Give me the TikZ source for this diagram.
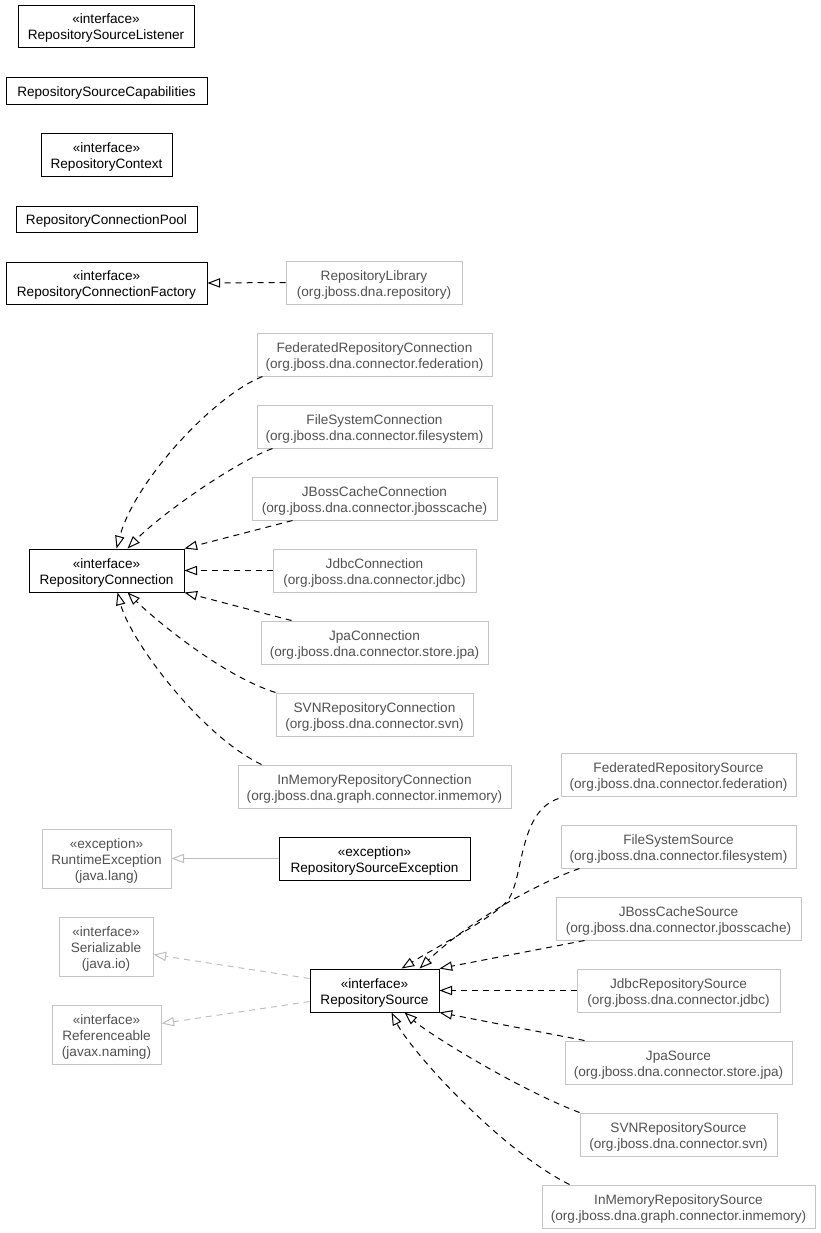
\documentclass[tikz,border=0pt]{standalone}
\usepackage{fontspec}
\setmainfont{Liberation Sans}
\usetikzlibrary{arrows.meta,calc}
\definecolor{boxgray}{RGB}{196,196,196}
\definecolor{txtgray}{RGB}{80,80,80}
\definecolor{edgegray}{RGB}{190,190,190}
\tikzset{
  cls/.style={draw=black, line width=0.7pt, inner sep=0pt, align=center, font=\fontsize{10.2}{12}\selectfont},
  ext/.style={draw=boxgray, line width=0.75pt, inner sep=0pt, align=center, text=txtgray, font=\fontsize{10.2}{12}\selectfont},
  tipo/.style={-{Triangle[open,length=9.5pt,width=7pt]}},
  real/.style={draw=black, line width=0.75pt, dash pattern=on 4.5pt off 3.75pt, tipo},
  greal/.style={draw=edgegray, line width=0.75pt, dash pattern=on 4.5pt off 3.75pt, tipo},
  ginh/.style={draw=edgegray, line width=0.75pt, tipo}
}
\newcommand\umlbox[7]{\node[#1, minimum width={(#4-#2)*0.75pt}, minimum height={(#5-#3)*0.75pt}] (#6) at ({(#2+#4)/2},{(#3+#5)/2}) {\rule{0pt}{10.7pt}#7};}
\begin{document}
\begin{tikzpicture}[x=0.75pt,y=-0.75pt]
\useasboundingbox (0,0) rectangle (821,1233);
% black classes
\umlbox{cls}{18}{5}{194}{47}{rsl}{«interface»\\RepositorySourceListener}
\umlbox{cls}{6}{77}{207}{104}{rscap}{RepositorySourceCapabilities}
\umlbox{cls}{41}{133}{172}{176}{rctx}{«interface»\\RepositoryContext}
\umlbox{cls}{16}{206}{197}{232}{rcp}{RepositoryConnectionPool}
\umlbox{cls}{6}{262}{207}{304}{rcf}{«interface»\\RepositoryConnectionFactory}
\umlbox{cls}{29}{549}{184}{592}{rc}{«interface»\\RepositoryConnection}
\umlbox{cls}{279}{837}{470}{880}{rse}{«exception»\\RepositorySourceException}
\umlbox{cls}{310}{969}{439}{1012}{rs}{«interface»\\RepositorySource}
% external classes
\umlbox{ext}{286}{261}{462}{304}{lib}{RepositoryLibrary\\(org.jboss.dna.repository)}
\umlbox{ext}{257}{333}{492}{376}{fedc}{FederatedRepositoryConnection\\(org.jboss.dna.connector.federation)}
\umlbox{ext}{257}{405}{492}{448}{fsc}{FileSystemConnection\\(org.jboss.dna.connector.filesystem)}
\umlbox{ext}{252}{477}{497}{520}{jbc}{JBossCacheConnection\\(org.jboss.dna.connector.jbosscache)}
\umlbox{ext}{273}{549}{476}{592}{jdbcc}{JdbcConnection\\(org.jboss.dna.connector.jdbc)}
\umlbox{ext}{261}{621}{488}{664}{jpac}{JpaConnection\\(org.jboss.dna.connector.store.jpa)}
\umlbox{ext}{276}{693}{473}{736}{svnc}{SVNRepositoryConnection\\(org.jboss.dna.connector.svn)}
\umlbox{ext}{238}{765}{511}{808}{imc}{InMemoryRepositoryConnection\\(org.jboss.dna.graph.connector.inmemory)}
\umlbox{ext}{42}{829}{171}{888}{rte}{«exception»\\RuntimeException\\(java.lang)}
\umlbox{ext}{59}{917}{153}{976}{ser}{«interface»\\Serializable\\(java.io)}
\umlbox{ext}{52}{1005}{161}{1064}{ref}{«interface»\\Referenceable\\(javax.naming)}
\umlbox{ext}{561}{753}{796}{796}{feds}{FederatedRepositorySource\\(org.jboss.dna.connector.federation)}
\umlbox{ext}{561}{825}{796}{868}{fss}{FileSystemSource\\(org.jboss.dna.connector.filesystem)}
\umlbox{ext}{556}{897}{801}{940}{jbs}{JBossCacheSource\\(org.jboss.dna.connector.jbosscache)}
\umlbox{ext}{577}{969}{780}{1012}{jdbcs}{JdbcRepositorySource\\(org.jboss.dna.connector.jdbc)}
\umlbox{ext}{565}{1041}{792}{1084}{jpas}{JpaSource\\(org.jboss.dna.connector.store.jpa)}
\umlbox{ext}{580}{1113}{777}{1156}{svns}{SVNRepositorySource\\(org.jboss.dna.connector.svn)}
\umlbox{ext}{542}{1185}{815}{1228}{ims}{InMemoryRepositorySource\\(org.jboss.dna.graph.connector.inmemory)}
% edges: library
\draw[real] (lib.west) -- (rcf.east);
% edges: connections
\draw[real] ($(fedc.south west)+(6,0)$) .. controls (215,395) and (135,480) .. ($(rc.north west)+(88,0)$);
\draw[real] ($(fsc.south west)+(16,0)$) .. controls (235,462) and (160,515) .. ($(rc.north west)+(99,0)$);
\draw[real] ($(jbc.south west)+(41,0)$) -- (rc.north east);
\draw[real] (jdbcc.west) -- (rc.east);
\draw[real] ($(jpac.north west)+(31,0)$) -- (rc.south east);
\draw[real] (svnc.north west) .. controls (220,675) and (150,615) .. ($(rc.south west)+(99,0)$);
\draw[real] ($(imc.north west)+(24,0)$) .. controls (200,735) and (130,640) .. ($(rc.south west)+(89,0)$);
% exception
\draw[ginh] (rse.west) -- (rte.east);
% serializable / referenceable
\draw[greal] ($(rs.north west)+(0,10)$) -- ($(ser.north east)+(0,38)$);
\draw[greal] ($(rs.south west)+(0,-11)$) -- ($(ref.north east)+(0,19)$);
% edges: sources
\draw[real] ($(feds.south west)+(-2,2)$) .. controls (518,812) and (524,878) .. (508,900) .. controls (496,916) and (440,945) .. ($(rs.north west)+(92,0)$);
\draw[real] ($(fss.south west)+(19,0)$) .. controls (540,882) and (470,920) .. ($(rs.north west)+(110,0)$);
\draw[real] ($(jbs.south west)+(29,0)$) -- (rs.north east);
\draw[real] (jdbcs.west) -- (rs.east);
\draw[real] ($(jpas.north west)+(20,0)$) -- (rs.south east);
\draw[real] (svns.north west) .. controls (520,1090) and (430,1035) .. ($(rs.south west)+(95,0)$);
\draw[real] ($(ims.north west)+(28,0)$) .. controls (500,1150) and (410,1050) .. ($(rs.south west)+(82,0)$);
\end{tikzpicture}
\end{document}
